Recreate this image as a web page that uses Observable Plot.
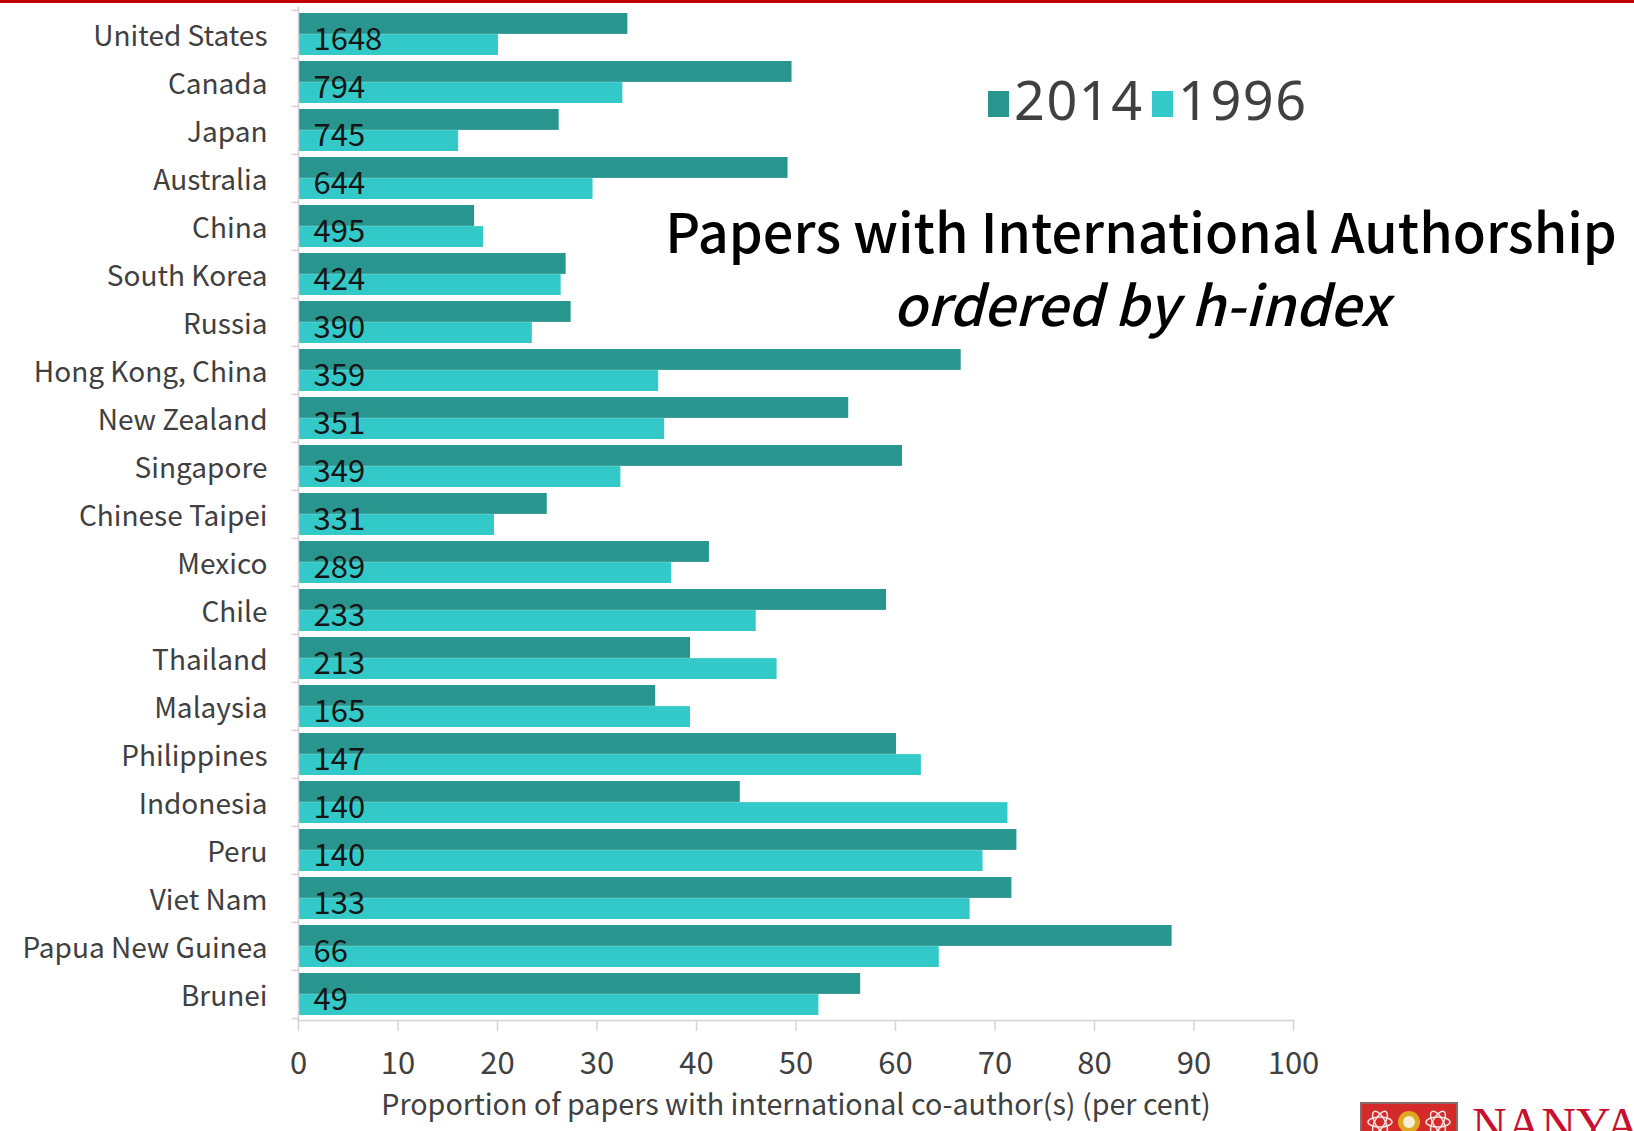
<!DOCTYPE html>
<html>
<head>
<meta charset="utf-8">
<script src="https://cdn.jsdelivr.net/npm/d3@7"></script>
<script src="https://cdn.jsdelivr.net/npm/@observablehq/plot@0.6"></script>
<style>
  html, body { margin: 0; padding: 0; background: #fff; overflow: hidden; }
  #page { position: relative; width: 1634px; height: 1131px; overflow: hidden; }
  #page > svg { position: absolute; left: 0; top: 0; }
  #topline { position: absolute; left: 0; top: 0; width: 1634px; height: 3px; background: #c00000; }
</style>
</head>
<body>
<div id="page"><div id="topline"></div></div>
<script>
// Economies in h-index order, with the share of papers that have an international co-author
const countries = [
  "United States", "Canada", "Japan", "Australia", "China", "South Korea", "Russia",
  "Hong Kong, China", "New Zealand", "Singapore", "Chinese Taipei", "Mexico", "Chile",
  "Thailand", "Malaysia", "Philippines", "Indonesia", "Peru", "Viet Nam",
  "Papua New Guinea", "Brunei"
];
const share2014 = [33.1, 49.6, 26.2, 49.2, 17.7, 26.9, 27.4, 66.6, 55.3, 60.7, 25.0, 41.3, 59.1, 39.4, 35.9, 60.1, 44.4, 72.2, 71.7, 87.8, 56.5];
const share1996 = [20.1, 32.6, 16.1, 29.6, 18.6, 26.4, 23.5, 36.2, 36.8, 32.4, 19.7, 37.5, 46.0, 48.1, 39.4, 62.6, 71.3, 68.8, 67.5, 64.4, 52.3];
const hIndex = [1648, 794, 745, 644, 495, 424, 390, 359, 351, 349, 331, 289, 233, 213, 165, 147, 140, 140, 133, 66, 49];
const xTicks = [0, 10, 20, 30, 40, 50, 60, 70, 80, 90, 100];
const years = ["2014", "1996"];
const yearColors = ["#28968f", "#34c9c9"];
const xLabel = "Proportion of papers with international co-author(s) (per cent)";

const rows = countries.map((country, i) => ({
  country, v2014: share2014[i], v1996: share1996[i], h: hIndex[i]
}));

const W = 1634, H = 1131;
const mTop = 7, mBottom = 111, mLeft = 298, mRight = 341;
const band = (H - mTop - mBottom) / countries.length;
const font = "'Noto Sans CJK TC', 'Noto Sans', sans-serif";
const gridGray = "#d4d4d4";

const chart = Plot.plot({
  width: W,
  height: H,
  marginTop: mTop,
  marginBottom: mBottom,
  marginLeft: mLeft,
  marginRight: mRight,
  style: { fontFamily: font, background: "transparent", overflow: "visible" },
  x: { domain: [0, 100] },
  y: { domain: countries, padding: 0 },
  marks: [
    // 2014 on the upper half of each band, 1996 on the lower half
    Plot.barX(rows, { x: "v2014", y: "country", fill: yearColors[0], insetTop: 3, insetBottom: band / 2 }),
    Plot.barX(rows, { x: "v1996", y: "country", fill: yearColors[1], insetTop: band / 2, insetBottom: 3 }),
    // axis lines
    Plot.frame({ anchor: "left", stroke: gridGray, strokeWidth: 1.5 }),
    Plot.frame({ anchor: "bottom", stroke: gridGray, strokeWidth: 1.5 }),
    // category boundary ticks on the y axis
    Plot.ruleY(countries, { y: d => d, dy: -band / 2, x1: 0, x2: 0, insetLeft: -6, stroke: gridGray, strokeWidth: 1.5 }),
    Plot.ruleY(countries.slice(-1), { y: d => d, dy: band / 2, x1: 0, x2: 0, insetLeft: -6, stroke: gridGray, strokeWidth: 1.5 }),
    Plot.axisX({
      ticks: xTicks, tickSize: 11, tickPadding: 20, tickFormat: d => String(d),
      stroke: gridGray, strokeWidth: 1.5, fill: "#404040", fontSize: 31, label: null
    }),
    Plot.axisY({ tickSize: 0, tickPadding: 31, fill: "#404040", fontSize: 28, dy: 3, label: null }),
    // h-index of each economy at the base of its bars
    Plot.text(rows, { x: 0, y: "country", text: d => String(d.h), dx: 15, dy: 6, textAnchor: "start", fontSize: 31, fill: "#151515" }),
    Plot.text([xLabel], { x: 50, frameAnchor: "bottom", dy: 94, fontSize: 28.7, fill: "#404040" })
  ]
});
document.getElementById("page").appendChild(chart);

// Title, legend and logo drawn over the chart area
const ov = d3.select("#page").append("svg")
  .attr("width", W).attr("height", H)
  .style("pointer-events", "none")
  .style("font-family", font);

ov.append("text").attr("x", 1141).attr("y", 253).attr("text-anchor", "middle")
  .attr("font-size", 54).attr("font-weight", 500).attr("fill", "#000").text("Papers with International Authorship");
ov.append("text").attr("x", 1141).attr("y", 326).attr("text-anchor", "middle")
  .attr("font-size", 55).attr("font-weight", 500).attr("font-style", "italic").attr("fill", "#000").text("ordered by h-index");

const legendX = [988, 1152];
years.forEach((yr, i) => {
  ov.append("rect").attr("x", legendX[i]).attr("y", 91).attr("width", 21).attr("height", 26).attr("fill", yearColors[i]);
  ov.append("text").attr("x", legendX[i] + 26).attr("y", 120).attr("font-size", 54).attr("letter-spacing", 1.5)
    .attr("font-family", "'Noto Sans', sans-serif").attr("fill", "#404040").text(yr);
});

// Logo at the lower right, running off the page edge
const logo = ov.append("g");
logo.append("rect").attr("x", 1361).attr("y", 1103).attr("width", 96).attr("height", 40)
  .attr("fill", "#d42a2a").attr("stroke", "#8a6a6a").attr("stroke-width", 2);
[1380, 1438].forEach(cx => {
  [0, 60, 120].forEach(a => {
    logo.append("ellipse").attr("cx", cx).attr("cy", 1122).attr("rx", 12).attr("ry", 5)
      .attr("fill", "none").attr("stroke", "#f4e6e6").attr("stroke-width", 1.5)
      .attr("transform", `rotate(${a},${cx},1122)`);
  });
});
logo.append("circle").attr("cx", 1409).attr("cy", 1122).attr("r", 11).attr("fill", "#e0a820");
logo.append("circle").attr("cx", 1409).attr("cy", 1122).attr("r", 6).attr("fill", "#f6f0d8");
logo.append("text").attr("x", 1472).attr("y", 1141).attr("font-family", "'Liberation Serif', serif")
  .attr("font-size", 48).attr("fill", "#c8102e").text("NANYANG");
</script>
</body>
</html>
